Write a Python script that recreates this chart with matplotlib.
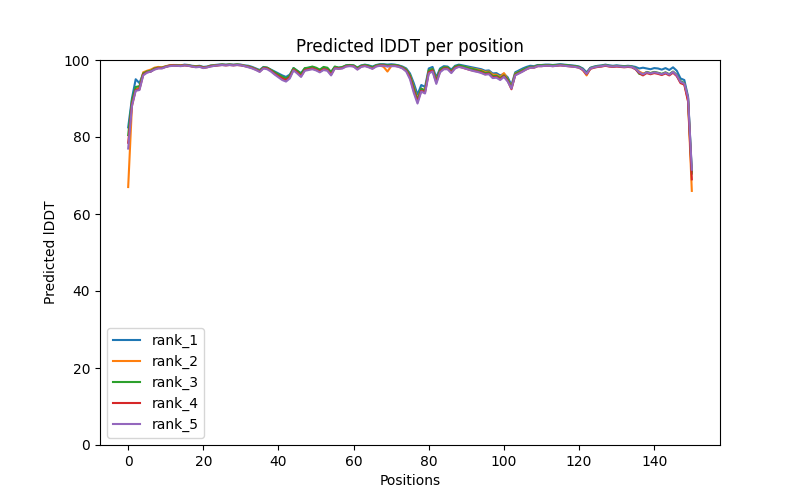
import matplotlib
matplotlib.use("Agg")
import matplotlib.pyplot as plt
import numpy as np

# per-position pLDDT values, positions 0..150
positions = list(range(151))

rank_1 = [
    82.5, 90.0, 95.0, 94.0, 96.5, 97.0, 97.0, 97.8, 98.0, 98.0,
    98.3, 98.6, 98.7, 98.7, 98.6, 98.8, 98.7, 98.5, 98.4, 98.5,
    98.2, 98.3, 98.6, 98.7, 98.8, 98.9, 98.8, 98.9, 98.8, 98.9,
    98.8, 98.6, 98.5, 98.2, 97.8, 97.4, 98.2, 98.0, 97.5, 97.0,
    96.5, 96.0, 95.6, 96.2, 97.9, 97.2, 96.6, 97.8, 98.0, 98.2,
    97.8, 97.4, 98.0, 97.8, 96.8, 98.2, 98.0, 98.1, 98.6, 98.7,
    98.6, 98.0, 98.6, 98.8, 98.6, 98.3, 98.7, 98.9, 98.9, 98.8,
    98.9, 98.8, 98.6, 98.3, 97.8, 96.5, 94.0, 91.0, 93.5, 93.0,
    97.8, 98.2, 95.5, 97.8, 98.4, 98.3, 97.5, 98.5, 98.8, 98.6,
    98.4, 98.2, 98.0, 97.8, 97.6, 97.2, 97.3, 96.5, 96.6, 96.0,
    96.4, 95.5, 93.5, 96.8, 97.3, 97.8, 98.2, 98.5, 98.4, 98.7,
    98.7, 98.8, 98.8, 98.7, 98.8, 98.9, 98.8, 98.7, 98.6, 98.5,
    98.3, 97.8, 96.8, 98.0, 98.3, 98.5, 98.6, 98.8, 98.6, 98.5,
    98.6, 98.5, 98.4, 98.5, 98.4, 98.2, 97.8, 98.0, 97.8, 97.6,
    97.9, 97.8, 97.5, 97.9, 97.4, 98.1, 97.2, 95.2, 94.8, 90.5,
    71.0,
]

rank_2 = [
    67.0, 88.0, 92.5, 92.8, 96.8, 97.2, 97.5, 98.0, 98.2, 98.1,
    98.4, 98.6, 98.7, 98.6, 98.6, 98.7, 98.6, 98.4, 98.3, 98.4,
    98.0, 98.2, 98.5, 98.6, 98.7, 98.8, 98.7, 98.8, 98.7, 98.8,
    98.7, 98.5, 98.3, 98.0, 97.6, 97.2, 98.0, 97.9, 97.3, 96.6,
    96.1, 95.5, 95.0, 95.8, 97.6, 96.8, 96.0, 97.4, 97.6, 97.9,
    97.5, 97.0, 97.6, 97.4, 96.4, 98.0, 97.8, 98.0, 98.4, 98.5,
    98.4, 97.8, 98.4, 98.6, 98.3, 98.0, 98.5, 98.6, 98.2, 97.0,
    98.4, 98.6, 98.4, 98.1, 97.5, 96.0, 93.0, 89.8, 92.5, 92.2,
    97.2, 97.6, 94.8, 97.3, 98.0, 98.0, 97.0, 98.2, 98.5, 98.3,
    98.1, 97.9, 97.7, 97.5, 97.3, 96.9, 97.0, 96.2, 96.2, 95.6,
    96.6, 95.0, 93.0, 96.5, 96.9, 97.4, 97.8, 98.2, 98.2, 98.5,
    98.5, 98.6, 98.6, 98.5, 98.6, 98.7, 98.6, 98.5, 98.4, 98.3,
    98.1, 97.4, 96.0, 97.8, 98.1, 98.3, 98.4, 98.6, 98.4, 98.3,
    98.4, 98.3, 98.2, 98.3, 98.2, 97.8, 97.0, 96.5, 96.8, 96.6,
    96.8, 96.6, 96.3, 96.7, 96.2, 96.9, 96.0, 94.2, 93.8, 89.5,
    66.0,
]

rank_3 = [
    80.5, 89.5, 93.0, 93.2, 96.5, 97.0, 97.2, 97.8, 98.0, 98.0,
    98.3, 98.5, 98.6, 98.6, 98.5, 98.7, 98.6, 98.4, 98.3, 98.4,
    98.1, 98.2, 98.5, 98.6, 98.7, 98.8, 98.7, 98.8, 98.7, 98.8,
    98.7, 98.5, 98.3, 98.0, 97.6, 97.2, 98.1, 98.0, 97.4, 96.8,
    96.2, 95.7, 95.2, 95.9, 97.9, 97.2, 96.4, 97.9, 98.0, 98.3,
    98.0, 97.5, 98.2, 98.0, 96.9, 98.3, 98.0, 98.2, 98.6, 98.7,
    98.6, 98.0, 98.5, 98.7, 98.5, 98.1, 98.6, 98.8, 98.8, 98.6,
    98.7, 98.7, 98.5, 98.1, 97.5, 96.0, 92.8, 89.5, 92.6, 92.0,
    97.3, 97.7, 94.6, 97.5, 98.1, 98.1, 97.1, 98.3, 98.6, 98.4,
    98.1, 97.8, 97.6, 97.3, 97.1, 96.6, 96.8, 95.8, 95.9, 95.3,
    96.0, 95.0, 92.8, 96.4, 96.9, 97.4, 97.9, 98.2, 98.2, 98.6,
    98.6, 98.7, 98.7, 98.6, 98.7, 98.8, 98.7, 98.6, 98.5, 98.4,
    98.2, 97.6, 96.5, 97.9, 98.2, 98.4, 98.5, 98.7, 98.5, 98.4,
    98.5, 98.4, 98.3, 98.4, 98.3, 97.8, 96.4, 96.2, 96.9, 96.6,
    96.9, 96.7, 96.4, 96.8, 96.3, 97.0, 96.1, 94.5, 94.0, 90.0,
    70.5,
]

rank_4 = [
    78.5, 88.5, 92.2, 92.4, 96.2, 96.8, 97.0, 97.6, 97.9, 97.9,
    98.2, 98.5, 98.6, 98.5, 98.5, 98.6, 98.5, 98.3, 98.2, 98.3,
    98.0, 98.1, 98.4, 98.5, 98.6, 98.7, 98.6, 98.7, 98.6, 98.7,
    98.6, 98.4, 98.2, 97.9, 97.5, 97.0, 97.9, 97.8, 97.2, 96.4,
    95.8, 95.2, 94.8, 95.5, 97.5, 96.8, 95.8, 97.4, 97.6, 97.8,
    97.5, 97.0, 97.6, 97.4, 96.2, 97.9, 97.8, 97.9, 98.4, 98.5,
    98.4, 97.6, 98.3, 98.5, 98.2, 97.8, 98.4, 98.6, 98.6, 98.4,
    98.5, 98.5, 98.3, 97.9, 97.2, 95.5, 92.0, 89.2, 92.0, 91.6,
    96.8, 97.3, 94.2, 97.0, 97.8, 97.8, 96.8, 98.0, 98.3, 98.0,
    97.7, 97.4, 97.2, 97.0, 96.8, 96.3, 96.5, 95.5, 95.6, 95.0,
    95.8, 94.6, 92.4, 96.1, 96.6, 97.1, 97.6, 98.0, 98.0, 98.4,
    98.4, 98.5, 98.5, 98.4, 98.5, 98.6, 98.5, 98.4, 98.3, 98.2,
    98.0, 97.4, 96.3, 97.7, 98.0, 98.2, 98.3, 98.5, 98.3, 98.2,
    98.3, 98.2, 98.1, 98.2, 98.1, 97.6, 96.6, 96.0, 96.6, 96.3,
    96.6, 96.4, 96.1, 96.5, 96.0, 96.7, 95.8, 94.0, 93.6, 89.2,
    69.0,
]

rank_5 = [
    77.0, 88.0, 92.0, 92.2, 96.0, 96.7, 97.0, 97.5, 97.8, 97.8,
    98.2, 98.4, 98.5, 98.5, 98.4, 98.6, 98.5, 98.3, 98.1, 98.2,
    97.9, 98.1, 98.3, 98.5, 98.6, 98.7, 98.6, 98.7, 98.6, 98.7,
    98.6, 98.4, 98.1, 97.8, 97.4, 96.9, 97.8, 97.6, 97.0, 96.2,
    95.5, 94.8, 94.4, 95.2, 97.3, 96.5, 95.6, 97.2, 97.4, 97.6,
    97.3, 96.8, 97.4, 97.2, 96.0, 97.8, 97.7, 97.8, 98.3, 98.4,
    98.3, 97.5, 98.2, 98.4, 98.1, 97.7, 98.3, 98.5, 98.5, 98.3,
    98.4, 98.4, 98.2, 97.8, 97.0, 95.0, 91.5, 88.7, 91.8, 91.3,
    96.5, 97.0, 93.8, 96.8, 97.6, 97.6, 96.6, 97.8, 98.2, 98.0,
    97.7, 97.4, 97.1, 96.9, 96.6, 96.2, 96.3, 95.3, 95.4, 94.8,
    95.6, 94.4, 92.6, 96.0, 96.5, 97.0, 97.6, 98.0, 98.0, 98.4,
    98.4, 98.5, 98.5, 98.4, 98.5, 98.6, 98.5, 98.4, 98.3, 98.2,
    98.0, 97.5, 96.4, 97.8, 98.1, 98.3, 98.4, 98.6, 98.4, 98.3,
    98.4, 98.3, 98.2, 98.3, 98.2, 97.7, 96.8, 96.3, 96.8, 96.5,
    96.8, 96.6, 96.3, 96.7, 96.2, 96.9, 96.0, 94.3, 93.9, 90.2,
    71.5,
]

series = [
    ("rank_1", rank_1),
    ("rank_2", rank_2),
    ("rank_3", rank_3),
    ("rank_4", rank_4),
    ("rank_5", rank_5),
]

fig, ax = plt.subplots(figsize=(8, 5), dpi=100)
for name, vals in series:
    ax.plot(positions, vals, label=name)

ax.set_title("Predicted lDDT per position")
ax.set_xlabel("Positions")
ax.set_ylabel("Predicted lDDT")
ax.set_ylim(0, 100)
ax.legend(loc="lower left")

fig.savefig("out.png")
